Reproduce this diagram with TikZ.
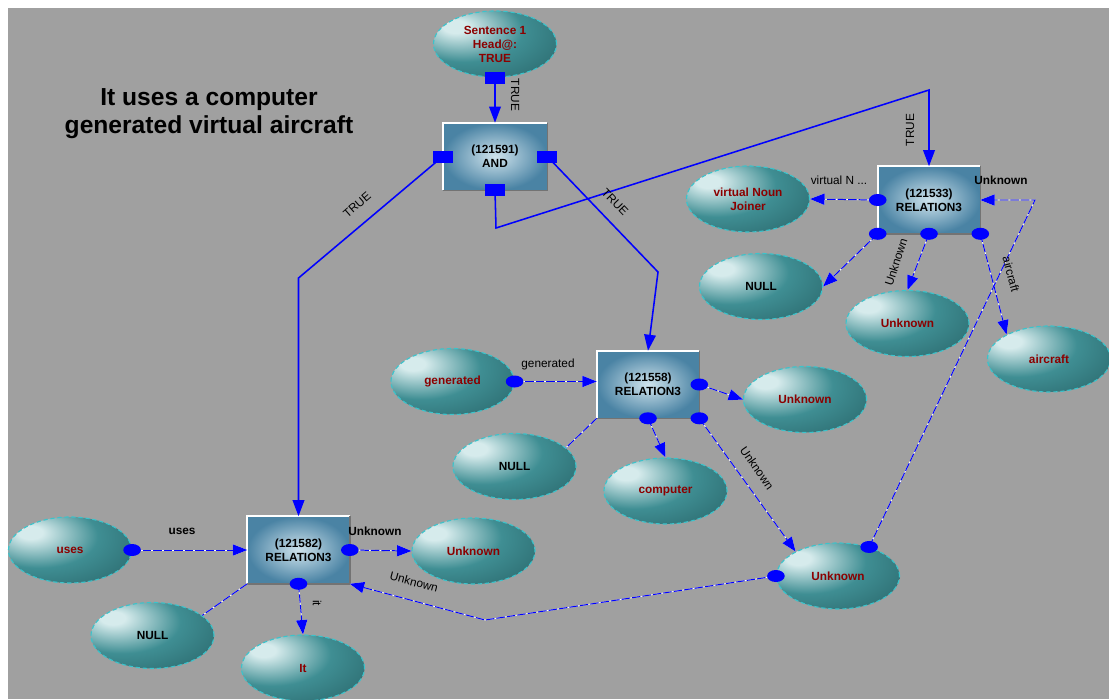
\documentclass[tikz,border=0pt]{standalone}
\usepackage{fontspec}
\setmainfont{Liberation Sans}
\usetikzlibrary{shapes.geometric,arrows.meta,positioning}

\definecolor{bggray}{HTML}{A0A0A0}
\definecolor{ovhi}{HTML}{D6EBEC}
\definecolor{ovmid}{HTML}{3F8E93}
\definecolor{ovdark}{HTML}{2A676B}
\definecolor{ovrim}{HTML}{3CC3CB}
\definecolor{boxhi}{HTML}{CFE3EC}
\definecolor{boxlo}{HTML}{4A83A4}
\definecolor{linkblue}{HTML}{0000FF}
\definecolor{nodered}{HTML}{8B0000}

\pgfdeclareradialshading{ovalshade}{\pgfpoint{-17bp}{14bp}}{color(0bp)=(ovhi); color(5bp)=(ovhi); color(24bp)=(ovmid); color(46bp)=(ovdark); color(95bp)=(ovdark)}

\newcommand{\ovfont}{\fontsize{8.4}{10}\selectfont\bfseries}
\newcommand{\lblfont}{\fontsize{8.4}{10}\selectfont}
\newcommand{\lblbfont}{\fontsize{8.4}{10}\selectfont\bfseries}
\newcommand{\headfont}{\fontsize{17.5}{20}\selectfont\bfseries}

\tikzstyle{oval}     = [ellipse, minimum width=30.75mm, minimum height=16.5mm, inner sep=0pt, shading=ovalshade, draw=ovrim, densely dashed, line width=0.8pt, font=\ovfont, text=nodered, align=center]
\tikzstyle{rel}      = [rectangle, minimum width=25.5mm, minimum height=16.75mm, inner sep=0pt, inner color=boxhi, outer color=boxlo, font=\ovfont, align=center]
\tikzstyle{solidptr} = [draw=linkblue, line width=1.1pt, -{Triangle[length=4mm, width=2.9mm]}]
\tikzstyle{dashline} = [draw=white, line width=0.6pt, postaction={draw=linkblue, line width=0.7pt, dash pattern=on 6pt off 1.5pt}]
\tikzstyle{dashptr}  = [dashline, -{Triangle[length=3.6mm, width=2.8mm]}]
\tikzstyle{lbl}      = [font=\lblfont, inner sep=1pt]
\tikzstyle{bevhi}    = [draw=white, line width=1.2pt]
\tikzstyle{bevlo}    = [draw=black!55, line width=1pt]

\begin{document}
\begin{tikzpicture}[x=0.025cm, y=-0.025cm]

    \fill[white]  (0,0) rectangle (1109,699);
    \fill[bggray] (8,8) rectangle (1109,699);
    \useasboundingbox (0,0) rectangle (1109,699);

    \node[font=\headfont, align=center] (title) at (209,114) {It uses a computer\\generated virtual aircraft};

    % concepts and relations
    \node[oval] (sent) at (495,44) {Sentence 1\\Head@:\\TRUE};
    \node[rel, minimum width=26mm] (andb) at (495,156.5) {(121591)\\AND};
    \node[rel] (r533) at (929,200)   {(121533)\\RELATION3};
    \node[rel] (r558) at (648,384.5) {(121558)\\RELATION3};
    \node[rel] (r582) at (298.5,550) {(121582)\\RELATION3};

    \node[oval]             (vnj)    at (748,199)     {virtual Noun\\Joiner};
    \node[oval, text=black] (nullr)  at (761,286.5)   {NULL};
    \node[oval]             (ukr)    at (907.5,323.5) {Unknown};
    \node[oval]             (air)    at (1049,359)    {aircraft};
    \node[oval]             (gen)    at (452.5,381.5) {generated};
    \node[oval]             (ukm)    at (805,399.5)   {Unknown};
    \node[oval, text=black] (nullm)  at (514.5,466.5) {NULL};
    \node[oval]             (comp)   at (665.5,491)   {computer};
    \node[oval]             (ukbr)   at (838,576)     {Unknown};
    \node[oval]             (uses)   at (70,550)      {uses};
    \node[oval]             (ukb)    at (473.5,551)   {Unknown};
    \node[oval, text=black] (nullbl) at (152.5,635.5) {NULL};
    \node[oval]             (itn)    at (303,668)     {It};

    \foreach \b in {andb, r533, r558, r582} {
        \draw[bevhi] (\b.south west) |- (\b.north east);
        \draw[bevlo] (\b.south west) -| (\b.north east);
    }

    \coordinate (k1) at (496,228);
    \coordinate (k2) at (929,90);
    \coordinate (kl) at (298.5,278);
    \coordinate (kr) at (658,272);
    \coordinate (kb) at (1035,200);
    \coordinate (kc) at (485,620);

    % TRUE links
    \draw[solidptr] (sent.south) -- (andb.north);
    \draw[solidptr] (andb.west)  -- (kl) -- (r582.north);
    \draw[solidptr] (andb.east)  -- (kr) -- (r558.north);
    \draw[solidptr] (andb.south) -- (k1) -- (k2) -- (r533.north);

    % role links
    \draw[dashptr]  (r533.west)       -- (vnj.east);
    \draw[dashptr]  (r533.south west) -- (nullr.east);
    \draw[dashptr]  (r533.south)      -- (ukr.north);
    \draw[dashptr]  (r533.south east) -- (air.150);
    \draw[dashptr]  (ukbr.43) -- (kb) -- (r533.east);

    \draw[dashptr]  (gen.east)        -- (r558.west |- gen.east);
    \draw[dashptr]  (r558.east)       -- (ukm.west);
    \draw[dashline] (r558.south west) -- (nullm.20);
    \draw[dashptr]  (r558.south)      -- (comp.north);
    \draw[dashptr]  (r558.south east) -- (ukbr.150);

    \draw[dashptr]  (uses.east)       -- (r582.west);
    \draw[dashptr]  (r582.east)       -- (ukb.west);
    \draw[dashline] (r582.south west) -- (nullbl.22);
    \draw[dashptr]  (r582.south)      -- (itn.north);
    \draw[dashptr]  (ukbr.west) -- (kc) -- (r582.south east);

    % ports
    \foreach \p in {sent.south, andb.west, andb.east, andb.south}
        \fill[linkblue] (\p) +(-10,-6) rectangle +(10,6);
    \foreach \p in {r533.west, r533.south west, r533.south, r533.south east, r558.east, r558.south, r558.south east, r582.east, r582.south, gen.east, uses.east, ukbr.43, ukbr.west}
        \fill[linkblue] (\p) ellipse [x radius=2.2mm, y radius=1.5mm];

    % link labels
    \node[lbl, rotate=-90] (t1) at (515,95)  {TRUE};
    \node[lbl, rotate=41]  (t2) at (357,205) {TRUE};
    \node[lbl, rotate=-46] (t3) at (615,202) {TRUE};
    \node[lbl, rotate=90]  (t4) at (910,130) {TRUE};

    \node[lbl]                     (lvnj)  at (839,180)  {virtual N ...};
    \node[lbl, font=\lblbfont]     (luk1)  at (1001,180) {Unknown};
    \node[lbl, rotate=72]          (luk2)  at (896,262)  {Unknown};
    \node[lbl, rotate=-75]         (lair)  at (1011,274) {aircraft};
    \node[lbl]                     (lgen)  at (548,364)  {generated};
    \node[lbl, rotate=-55]         (luk3)  at (757,468)  {Unknown};
    \node[lbl, font=\lblbfont]     (luses) at (182,531)  {uses};
    \node[lbl, font=\lblbfont]     (luk4)  at (375,531)  {Unknown};
    \node[lbl, rotate=-90]         (lit)   at (317,603)  {it};
    \node[lbl, rotate=-15]         (luk5)  at (414,582)  {Unknown};

\end{tikzpicture}
\end{document}
